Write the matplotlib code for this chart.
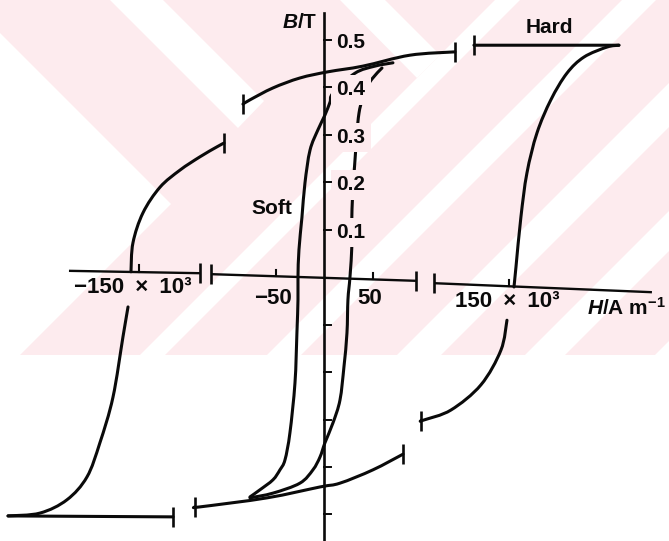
import numpy as np
import matplotlib.pyplot as plt
from matplotlib.patches import Polygon, PathPatch
from matplotlib.path import Path

plt.rcParams['font.family'] = ['Liberation Sans', 'DejaVu Sans']
plt.rcParams['mathtext.fontset'] = 'custom'
plt.rcParams['mathtext.rm'] = 'Liberation Sans:bold'
plt.rcParams['mathtext.it'] = 'Liberation Sans:italic:bold'

# ---------------- data ----------------
# soft material loop: H in A/m, B in T
soft_desc_H = [70.6, 52.1, 31.4, 8.8, 5.7, 0.5, -6.7, -14.9, -20.1, -23.2, -26.3, -27.3,
               -27.3, -28.4, -30.4, -35.6, -40.7, -45.9, -53.1, -66.5, -76.8]
soft_desc_B = [0.451, 0.444, 0.429, 0.387, 0.368, 0.341, 0.310, 0.267, 0.198, 0.126, 0.057, 0.0,
               -0.048, -0.118, -0.223, -0.328, -0.385, -0.406, -0.427, -0.448, -0.463]
soft_asc_H = [-76.8, -53.1, -25.3, -11.9, -4.6, 0.5, 8.8, 16.0, 20.1, 23.2, 24.2, 26.3,
              28.4, 28.4, 31.4, 35.6, 42.8, 49.0, 59.3]
soft_asc_B = [-0.465, -0.455, -0.434, -0.406, -0.379, -0.349, -0.307, -0.259, -0.189, -0.118,
              -0.048, 0.0, 0.072, 0.143, 0.244, 0.345, 0.394, 0.417, 0.440]

# hard material loop: H in kA/m (drawn on a broken H axis), B in T
hard_desc_top_H = [238.8, 121.2]
hard_desc_top_B = [0.488, 0.488]
hard_desc_upper_H = [105.8, 69.3, 31.2, 2.8, -19.9, -41.8, -60.4, -66.1]
hard_desc_upper_B = [0.474, 0.467, 0.444, 0.432, 0.419, 0.398, 0.373, 0.364]
hard_desc_knee_H = [-81.5, -87.2, -101.0, -117.2, -133.4, -147.2, -155.3, -156.9]
hard_desc_knee_B = [0.282, 0.274, 0.253, 0.225, 0.189, 0.135, 0.072, 0.011]
hard_desc_lower_H = [-159.3, -163.4, -171.5, -182.1, -192.6, -208.8, -230.7, -256.6]
hard_desc_lower_B = [-0.063, -0.126, -0.253, -0.349, -0.421, -0.469, -0.497, -0.503]

hard_asc_bottom_H = [-256.6, -122.8]
hard_asc_bottom_B = [-0.503, -0.505]
hard_asc_lower_H = [-105.0, -101.0, -46.6, -3.6, 12.6, 39.3, 63.7]
hard_asc_lower_B = [-0.484, -0.484, -0.465, -0.442, -0.434, -0.406, -0.373]
hard_asc_knee_H = [78.2, 80.7, 102.6, 126.9, 143.1, 148.0]
hard_asc_knee_B = [-0.303, -0.301, -0.280, -0.227, -0.154, -0.091]
hard_asc_upper_H = [153.7, 155.3, 159.3, 164.2, 172.3, 183.6, 196.6, 210.4, 229.0, 238.8]
hard_asc_upper_B = [-0.021, 0.021, 0.126, 0.219, 0.303, 0.373, 0.429, 0.463, 0.484, 0.488]

b_ticks = [0.5, 0.4, 0.3, 0.2, 0.1]
b_ticks_neg = [-0.1, -0.2, -0.3, -0.4, -0.5]
h_ticks_soft = [-50, 50]
h_ticks_hard = [-150, 150]
h_tick_labels_soft = ['\u221250', '50']
h_tick_labels_hard = ['\u2212150 \u00d7 10\u00b3', '150 \u00d7 10\u00b3']

HARD_SCALE = 1.2713   # axis units per kA/m on the outer (hard) parts of the H axis

INK = '#0a0a0a'
PINK = '#fdebee'
LW = 2.2
FS = 15

fig = plt.figure(figsize=(6.69, 5.41), dpi=100)
ax = fig.add_axes([0, 0, 1, 1])
ax.set_xlim(-334.5, 355.2)
ax.set_ylim(-0.5558, 0.5832)
ax.axis('off')

# ---------------- background stripes ----------------
W, Hpx, PINK_BOTTOM = 669.0, 541.0, 355.0


def px_poly(pts, color):
    xy = [(x / W, 1 - y / Hpx) for x, y in pts]
    ax.add_patch(Polygon(xy, closed=True, transform=ax.transAxes, facecolor=color,
                         edgecolor='none', zorder=0))


px_poly([(0, 0), (W, 0), (W, PINK_BOTTOM), (0, PINK_BOTTOM)], PINK)
for a, b in [(495, 520), (622, 656), (752, 796), (880, 920), (1010, 1050)]:
    px_poly([(a, 0), (b, 0), (b - PINK_BOTTOM, PINK_BOTTOM), (a - PINK_BOTTOM, PINK_BOTTOM)], 'white')
px_poly([(0, 33), (171, 204), (20, PINK_BOTTOM), (0, PINK_BOTTOM)], 'white')
px_poly([(110, 0), (163, 0), (264, 101), (238, 128)], 'white')
px_poly([(340, 0), (385, 0), (440, 55), (417, 78)], 'white')


# ---------------- helpers ----------------
def smooth_curve(xs, ys, z):
    """Stroke a smooth curve through the points (Catmull-Rom as cubic Beziers)."""
    pts = np.column_stack([xs, ys]).astype(float)
    n = len(pts)
    verts = [pts[0]]
    codes = [Path.MOVETO]
    for i in range(n - 1):
        p0 = pts[max(i - 1, 0)]
        p1 = pts[i]
        p2 = pts[i + 1]
        p3 = pts[min(i + 2, n - 1)]
        verts += [p1 + (p2 - p0) / 6.0, p2 - (p3 - p1) / 6.0, p2]
        codes += [Path.CURVE4] * 3
    ax.add_patch(PathPatch(Path(verts, codes), facecolor='none', edgecolor=INK,
                           lw=LW, capstyle='round', joinstyle='round', zorder=z))


def brk(h, b, half=0.021):
    ax.plot([h, h], [b - half, b + half], color=INK, lw=1.9, solid_capstyle='butt', zorder=5)


# ---------------- axes ----------------
# broken H axis: (x start, x end, B start, B end)
axis_segments = [(-263.4, -128.4, 0.013, 0.008),
                 (-117.0, 94.3, 0.006, -0.008),
                 (112.9, 337.6, -0.013, -0.032)]
for x0, x1, b0, b1 in axis_segments:
    ax.plot([x0, x1], [b0, b1], color=INK, lw=1.7, solid_capstyle='butt', zorder=4)
brk(-128.4, 0.008)
brk(-117.0, 0.006)
brk(94.3, -0.008)
brk(112.9, -0.013)


def axis_level(h):
    for x0, x1, b0, b1 in axis_segments:
        if x0 <= h <= x1:
            return np.interp(h, [x0, x1], [b0, b1])
    return 0.0


for h in h_ticks_soft:
    lv = axis_level(h)
    ax.plot([h, h], [lv, lv + 0.014], color=INK, lw=1.5, zorder=4)
for h in h_ticks_hard:
    hs = h * HARD_SCALE
    lv = axis_level(hs)
    ax.plot([hs, hs], [lv, lv + 0.014], color=INK, lw=1.5, zorder=4)

# B axis
ax.plot([0, 0], [-0.556, 0.556], color=INK, lw=1.9, zorder=4)
for b in b_ticks + b_ticks_neg:
    ax.plot([0, 6.5], [b, b], color=INK, lw=1.4, zorder=4)

# ---------------- loops ----------------
smooth_curve(soft_desc_H, soft_desc_B, 2)
smooth_curve(soft_asc_H, soft_asc_B, 2)

hard_pieces = [
    (hard_desc_top_H, hard_desc_top_B, False, True),
    (hard_desc_upper_H, hard_desc_upper_B, True, True),
    (hard_desc_knee_H, hard_desc_knee_B, True, False),
    (hard_desc_lower_H, hard_desc_lower_B, False, False),
    (hard_asc_bottom_H, hard_asc_bottom_B, False, True),
    (hard_asc_lower_H, hard_asc_lower_B, True, True),
    (hard_asc_knee_H, hard_asc_knee_B, True, False),
    (hard_asc_upper_H, hard_asc_upper_B, False, False),
]
for hh, bb, mark_start, mark_end in hard_pieces:
    xs = np.asarray(hh) * HARD_SCALE
    smooth_curve(xs, bb, 5)
    if mark_start:
        brk(xs[0], bb[0])
    if mark_end:
        brk(xs[-1], bb[-1])

# ---------------- text ----------------
for b in b_ticks:
    kw = {}
    if b < 0.45:
        kw['bbox'] = dict(boxstyle='square,pad=0.25', facecolor=PINK, edgecolor='none')
    ax.text(12.5, b - 0.006, f'{b:.1f}', fontsize=FS, fontweight='bold', color=INK,
            ha='left', va='center', zorder=3, **kw)

for h, lab in zip(h_ticks_soft, h_tick_labels_soft):
    ax.text(h - 3, -0.045, lab, fontsize=FS + 1, fontweight='bold', color=INK,
            ha='center', va='center', zorder=6)
for h, lab in zip(h_ticks_hard, h_tick_labels_hard):
    shift = -7 if h < 0 else -2
    ax.text(h * HARD_SCALE + shift, axis_level(h * HARD_SCALE) - 0.032, lab.replace(' ', '\u2002'),
            fontsize=FS + 1, fontweight='bold', color=INK, ha='center', va='center', zorder=6)

ax.text(-7.5, 0.535, r'$\mathit{B}$/T', fontsize=FS, fontweight='bold', color=INK,
        ha='right', va='center')
ax.text(270.6, -0.064, r'$\mathit{H}$/A m$^{-1}$', fontsize=FS, fontweight='bold',
        color=INK, ha='left', va='center')
ax.text(231.4, 0.526, 'Hard', fontsize=FS, fontweight='bold', color=INK, ha='center', va='center')
ax.text(-54.1, 0.145, 'Soft', fontsize=FS, fontweight='bold', color=INK, ha='center', va='center')

fig.savefig('out.png', dpi=100, facecolor='white')
